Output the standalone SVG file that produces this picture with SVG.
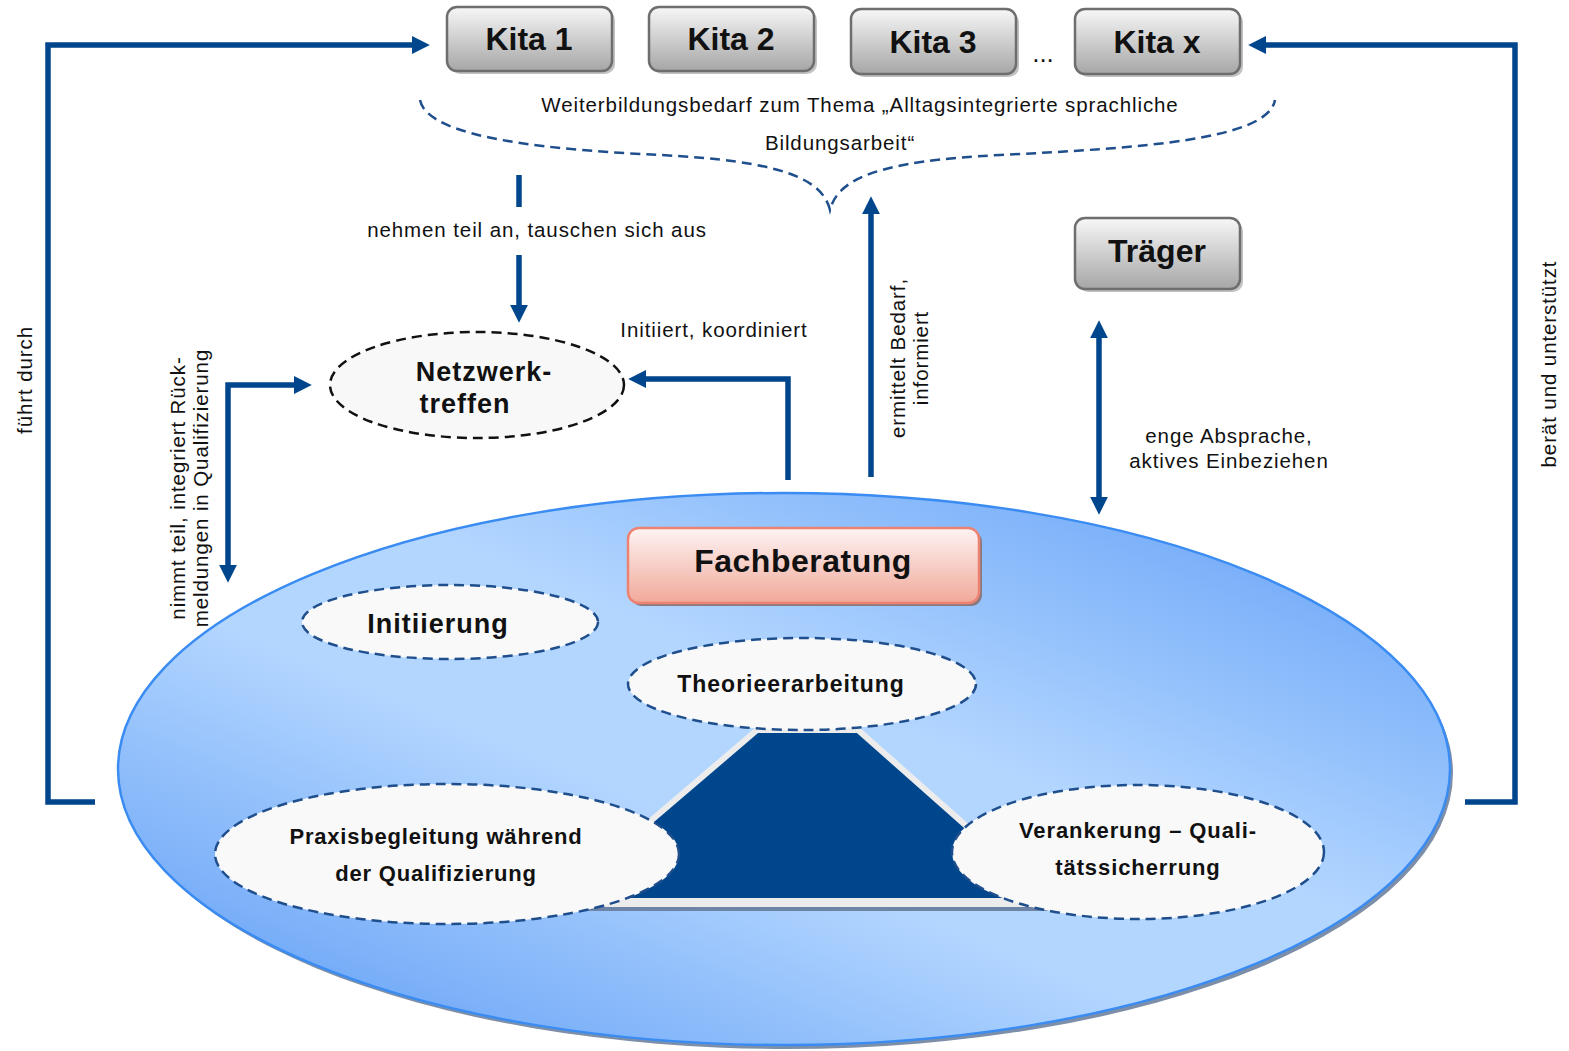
<svg xmlns="http://www.w3.org/2000/svg" width="1569" height="1051" viewBox="0 0 1569 1051">
<defs>
<style>
text{font-family:"Liberation Sans",Arial,sans-serif;fill:#111}
.lbl{font-size:20.5px;letter-spacing:0.9px}
.box{stroke:#6e6e6e;stroke-width:2.5}
.btxt{font-size:32px;font-weight:bold;text-anchor:middle}
.con{fill:none;stroke:#00468c;stroke-width:5.5;stroke-linejoin:miter}
.dash{fill:#f9f9f9;stroke:#1f4e8c;stroke-width:2.5;stroke-dasharray:10 6}
.etxt{font-weight:bold;text-anchor:middle}
.shadow{fill:#9a9a9a;opacity:0.6}
</style>
<linearGradient id="gBox" x1="0" y1="0" x2="0" y2="1">
<stop offset="0" stop-color="#f7f7f7"/>
<stop offset="1" stop-color="#a6a6a6"/>
</linearGradient>
<linearGradient id="gFach" x1="0" y1="0" x2="0" y2="1">
<stop offset="0" stop-color="#fdf3f3"/>
<stop offset="1" stop-color="#f1a99a"/>
</linearGradient>
<linearGradient id="gBig" x1="1" y1="0" x2="0" y2="1">
<stop offset="0" stop-color="#5d9cf6"/>
<stop offset="0.42" stop-color="#b3d6ff"/>
<stop offset="0.58" stop-color="#b3d6ff"/>
<stop offset="1" stop-color="#5797f4"/>
</linearGradient>
<marker id="ah" viewBox="0 0 10 10" refX="4" refY="5" markerWidth="18" markerHeight="18" markerUnits="userSpaceOnUse" orient="auto-start-reverse">
<path d="M0,0 L10,5 L0,10 z" fill="#00468c"/>
</marker>
</defs>
<rect width="1569" height="1051" fill="#fff"/>

<g id="basis">
<ellipse cx="787" cy="773" rx="666" ry="276" fill="#7d8fa8"/>
<ellipse cx="784" cy="769" rx="666" ry="276" fill="url(#gBig)" stroke="#3a8cf2" stroke-width="2.5"/>
<g id="trapez">
<rect x="555" y="900" width="500" height="8" fill="#ececec"/>
<rect x="555" y="907" width="500" height="4" fill="#6d84a6"/>
<polygon points="757,730 858,730 1051,901 557,901" fill="#00468c" stroke="#ececec" stroke-width="6" stroke-linejoin="round"/>
</g>
</g>

<g id="kita1">
<rect x="450" y="10" width="165" height="64" rx="10" class="shadow"/>
<rect x="447" y="7" width="165" height="64" rx="10" fill="url(#gBox)" class="box"/>
<text x="529" y="50" class="btxt">Kita 1</text>
</g>
<g id="kita2">
<rect x="652" y="10" width="165" height="64" rx="10" class="shadow"/>
<rect x="649" y="7" width="165" height="64" rx="10" fill="url(#gBox)" class="box"/>
<text x="731" y="50" class="btxt">Kita 2</text>
</g>
<g id="kita3">
<rect x="854" y="12" width="165" height="65" rx="10" class="shadow"/>
<rect x="851" y="9" width="165" height="65" rx="10" fill="url(#gBox)" class="box"/>
<text x="933" y="53" class="btxt">Kita 3</text>
</g>
<text x="1043" y="62" style="font-size:26px" text-anchor="middle">...</text>
<g id="kitax">
<rect x="1078" y="12" width="165" height="65" rx="10" class="shadow"/>
<rect x="1075" y="9" width="165" height="65" rx="10" fill="url(#gBox)" class="box"/>
<text x="1157" y="53" class="btxt">Kita x</text>
</g>
<g id="traeger">
<rect x="1078" y="221" width="165" height="71" rx="10" class="shadow"/>
<rect x="1075" y="218" width="165" height="71" rx="10" fill="url(#gBox)" class="box"/>
<text x="1157" y="262" class="btxt">Träger</text>
</g>

<g id="bedarf">
<path d="M420,100 C428,140 560,150 660,155 C780,161 822,178 830,210 C838,178 880,161 1000,155 C1140,148 1268,140 1275,100" fill="none" stroke="#1f4e8c" stroke-width="2.5" stroke-dasharray="10 6"/>
<text x="860" y="112" class="lbl" text-anchor="middle">Weiterbildungsbedarf zum Thema „Alltagsintegrierte sprachliche</text>
<text x="840" y="150" class="lbl" text-anchor="middle">Bildungsarbeit“</text>
</g>

<g id="connectors">
<path class="con" d="M95,802 H48 V45 H419" marker-end="url(#ah)"/>
<path class="con" d="M1465,802 H1515 V45 H1259" marker-end="url(#ah)"/>
<path class="con" d="M519,175 V207"/>
<path class="con" d="M519,255 V312" marker-end="url(#ah)"/>
<path class="con" d="M788,480 V379 H639" marker-end="url(#ah)"/>
<path class="con" d="M228,572 V385 H301" marker-start="url(#ah)" marker-end="url(#ah)"/>
<path class="con" d="M871,477 V207" marker-end="url(#ah)"/>
<path class="con" d="M1099,331 V504" marker-start="url(#ah)" marker-end="url(#ah)"/>
<text x="537" y="237" class="lbl" text-anchor="middle">nehmen teil an, tauschen sich aus</text>
<text x="714" y="337" class="lbl" text-anchor="middle">Initiiert, koordiniert</text>
<text transform="translate(32,380) rotate(-90)" class="lbl" text-anchor="middle">führt durch</text>
<text transform="translate(1556,364) rotate(-90)" class="lbl" text-anchor="middle">berät und unterstützt</text>
<text transform="translate(185,488) rotate(-90)" class="lbl" text-anchor="middle">nimmt teil, integriert Rück-</text>
<text transform="translate(208,488) rotate(-90)" class="lbl" text-anchor="middle">meldungen in Qualifizierung</text>
<text transform="translate(905,358) rotate(-90)" class="lbl" text-anchor="middle">ermittelt Bedarf,</text>
<text transform="translate(928,358) rotate(-90)" class="lbl" text-anchor="middle">informiert</text>
<text x="1229" y="443" class="lbl" text-anchor="middle">enge Absprache,</text>
<text x="1229" y="468" class="lbl" text-anchor="middle">aktives Einbeziehen</text>
</g>

<g id="netzwerktreffen">
<ellipse cx="477" cy="385" rx="147" ry="53" fill="#f8f8f8" stroke="#111" stroke-width="2.5" stroke-dasharray="10 6"/>
<text x="484" y="381" class="etxt" style="font-size:27px;letter-spacing:1px">Netzwerk-</text>
<text x="465" y="413" class="etxt" style="font-size:27px;letter-spacing:1px">treffen</text>
</g>

<g id="fachberatung">
<rect x="631" y="531" width="351" height="75" rx="11" fill="#8a7a80"/>
<rect x="628" y="528" width="351" height="75" rx="11" fill="url(#gFach)" stroke="#ec8372" stroke-width="2.5"/>
<text x="803" y="572" class="btxt" style="letter-spacing:0.5px">Fachberatung</text>
</g>

<g id="initiierung">
<ellipse cx="450" cy="622" rx="148" ry="37" class="dash"/>
<text x="438" y="633" class="etxt" style="font-size:27px;letter-spacing:1px">Initiierung</text>
</g>

<g id="theorieerarbeitung">
<ellipse cx="802" cy="684" rx="174" ry="46" class="dash"/>
<text x="791" y="692" class="etxt" style="font-size:23px;letter-spacing:1px">Theorieerarbeitung</text>
</g>

<g id="praxisbegleitung">
<ellipse cx="447" cy="854" rx="232" ry="70" class="dash"/>
<text x="436" y="844" class="etxt" style="font-size:22px;letter-spacing:0.8px">Praxisbegleitung während</text>
<text x="436" y="881" class="etxt" style="font-size:22px;letter-spacing:0.8px">der Qualifizierung</text>
</g>

<g id="verankerung">
<ellipse cx="1138" cy="852" rx="186" ry="67" class="dash"/>
<text x="1138" y="838" class="etxt" style="font-size:22px;letter-spacing:0.9px">Verankerung – Quali-</text>
<text x="1138" y="875" class="etxt" style="font-size:22px;letter-spacing:0.9px">tätssicherrung</text>
</g>
</svg>
